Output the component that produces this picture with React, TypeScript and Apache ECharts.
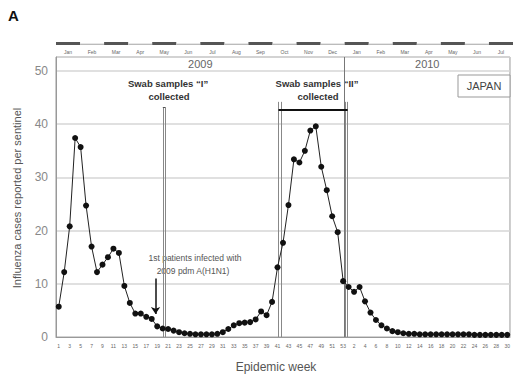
import React, { useEffect, useRef } from "react";
import * as echarts from "echarts";

// Epidemic week tick labels: 2009 weeks 1-53, 2010 weeks 1-30
const weeks2009 = Array.from({ length: 53 }, (_, i) => String(i + 1));
const weeks2010 = Array.from({ length: 30 }, (_, i) => String(i + 1));
const weekLabels = [...weeks2009, ...weeks2010];

// Influenza cases reported per sentinel
const values2009 = [
  5.7, 12.2, 20.8, 37.4, 35.7, 24.7, 17.0, 12.2, 13.6, 15.0,
  16.6, 15.8, 9.6, 6.4, 4.4, 4.4, 3.8, 3.4, 2.0, 1.6,
  1.5, 1.2, 0.9, 0.7, 0.6, 0.5, 0.5, 0.5, 0.5, 0.6,
  0.9, 1.5, 2.2, 2.6, 2.7, 2.8, 3.3, 4.8, 4.1, 6.6,
  13.1, 17.7, 24.8, 33.4, 32.8, 35.0, 38.8, 39.6, 32.0, 27.6,
  22.7, 19.7, 10.5,
];
const values2010 = [
  9.4, 8.5, 9.4, 6.7, 4.6, 3.2, 2.2, 1.6, 1.1, 0.9,
  0.7, 0.6, 0.6, 0.5, 0.5, 0.5, 0.5, 0.5, 0.5, 0.5,
  0.5, 0.5, 0.5, 0.4, 0.4, 0.4, 0.4, 0.4, 0.4, 0.4,
];
const values = [...values2009, ...values2010];

// Month timeline on top (Jan 2009 - Jul 2010)
const months = [
  "Jan", "Feb", "Mar", "Apr", "May", "Jun", "Jul", "Aug", "Sep", "Oct",
  "Nov", "Dec", "Jan", "Feb", "Mar", "Apr", "May", "Jun", "Jul",
];
const monthShade = [1, 0, 1, 0, 1, 0, 1, 0, 1, 0, 1, 0, 1, 0, 1, 0, 1, 0, 1];

const yTicks = [0, 10, 20, 30, 40, 50];
const years = ["2009", "2010"];

// Annotation positions in week-index units (1 = week 1 of 2009)
const yearBoundary = 53.25;
const swabI = 20.25;
const swabIIStart = 41.4;
const swabIIEnd = 53.6;
const firstPatientsWeek = 18.7;

const YMAX = 52.63;
const FONT = "'Liberation Sans', Arial, sans-serif";

export default function App() {
  const ref = useRef<HTMLDivElement>(null);
  useEffect(() => {
    if (!ref.current) return;
    const chart = echarts.init(ref.current, undefined, { renderer: "svg" });
    const grey = "#888";
    const dbl = (p: number, top: number) => [
      [
        { coord: [p - 0.22, 0], lineStyle: { color: grey, width: 1, type: "solid" } },
        { coord: [p - 0.22, top] },
      ],
      [
        { coord: [p + 0.22, 0], lineStyle: { color: grey, width: 1, type: "solid" } },
        { coord: [p + 0.22, top] },
      ],
    ];
    const option: any = {
      animation: false,
      textStyle: { fontFamily: FONT },
      grid: [
        { left: 56, top: 57, width: 457, height: 280, show: true, borderColor: "#999", borderWidth: 1 },
        { left: 56, top: 42, width: 457, height: 3 },
      ],
      xAxis: [
        {
          type: "category",
          gridIndex: 0,
          data: weekLabels,
          boundaryGap: true,
          axisLine: { show: true, lineStyle: { color: "#999" } },
          axisTick: { show: false },
          axisLabel: { interval: 1, fontSize: 5, color: "#666", margin: 6, fontFamily: FONT },
        },
        { type: "value", gridIndex: 0, min: 0.5, max: 83.5, show: false },
        {
          type: "category",
          gridIndex: 1,
          data: months,
          boundaryGap: true,
          axisLine: { show: false },
          axisTick: { show: false },
          axisLabel: { interval: 0, fontSize: 5, color: "#666", margin: 4, fontFamily: FONT },
        },
      ],
      yAxis: [
        {
          type: "value",
          gridIndex: 0,
          min: 0,
          max: YMAX,
          interval: 10,
          axisLine: { show: true, lineStyle: { color: "#999" } },
          axisTick: { show: false },
          splitLine: { lineStyle: { color: "#d6d6d6", width: 1.5 } },
          axisLabel: {
            fontSize: 12,
            color: "#888",
            margin: 8,
            fontFamily: FONT,
            formatter: (v: number) => (yTicks.includes(v) ? String(v) : ""),
          },
        },
        { type: "value", gridIndex: 1, min: 0, max: 1, show: false },
      ],
      series: [
        {
          type: "line",
          xAxisIndex: 1,
          yAxisIndex: 0,
          data: [],
          silent: true,
          markArea: {
            silent: true,
            itemStyle: { color: "rgba(0,0,0,0)" },
            label: { show: true, position: "inside", fontSize: 11, color: "#666", fontFamily: FONT },
            data: [
              [{ name: years[0], coord: [0.5, 50] }, { coord: [yearBoundary, YMAX] }],
              [{ name: years[1], coord: [yearBoundary, 50] }, { coord: [83.5, YMAX] }],
            ],
          },
          markLine: {
            silent: true,
            symbol: "none",
            label: { show: false },
            data: [
              [
                { coord: [yearBoundary, 0], lineStyle: { color: "#777", width: 1, type: "solid" } },
                { coord: [yearBoundary, YMAX] },
              ],
              ...dbl(swabI, 43.2),
              [
                { coord: [swabI - 0.22, 43.2], lineStyle: { color: "#555", width: 1, type: "solid" } },
                { coord: [swabI + 0.22, 43.2] },
              ],
              ...dbl(swabIIStart, 44.2),
              ...dbl(swabIIEnd, 44.2),
              [
                { coord: [swabIIStart - 0.22, 42.7], lineStyle: { color: "#111", width: 2, type: "solid" } },
                { coord: [swabIIEnd + 0.22, 42.7] },
              ],
              [
                { coord: [firstPatientsWeek, 11.0], symbol: "none", lineStyle: { color: "#111", width: 1.5, type: "solid" } },
                { coord: [firstPatientsWeek, 4.3], symbol: "arrow", symbolSize: 7 },
              ],
            ],
          },
        },
        {
          type: "line",
          xAxisIndex: 0,
          yAxisIndex: 0,
          data: values,
          symbol: "circle",
          symbolSize: 6,
          showSymbol: true,
          showAllSymbol: true,
          itemStyle: { color: "#111" },
          lineStyle: { color: "#222", width: 1 },
          z: 5,
        },
        {
          type: "bar",
          xAxisIndex: 2,
          yAxisIndex: 1,
          barWidth: "100%",
          silent: true,
          data: monthShade.map((s) => ({
            value: s ? 1 : 0.45,
            itemStyle: { color: s ? "#555" : "#bbb" },
          })),
        },
      ],
      graphic: [
        { type: "text", left: 8, top: 8, style: { text: "A", font: `bold 15px ${FONT}`, fill: "#111" } },
        {
          type: "text", x: 168, y: 83,
          style: { text: "Swab samples \u201cI\u201d", font: `bold 9.5px ${FONT}`, fill: "#333", textAlign: "center", textVerticalAlign: "middle" },
        },
        {
          type: "text", x: 169, y: 96,
          style: { text: "collected", font: `bold 9.5px ${FONT}`, fill: "#333", textAlign: "center", textVerticalAlign: "middle" },
        },
        {
          type: "text", x: 317, y: 83,
          style: { text: "Swab samples \u201cII\u201d", font: `bold 9.5px ${FONT}`, fill: "#333", textAlign: "center", textVerticalAlign: "middle" },
        },
        {
          type: "text", x: 318, y: 96,
          style: { text: "collected", font: `bold 9.5px ${FONT}`, fill: "#333", textAlign: "center", textVerticalAlign: "middle" },
        },
        {
          type: "text", x: 195, y: 258,
          style: { text: "1st patients infected with", font: `8.5px ${FONT}`, fill: "#555", textAlign: "center", textVerticalAlign: "middle" },
        },
        {
          type: "text", x: 193, y: 271,
          style: { text: "2009 pdm A(H1N1)", font: `8.5px ${FONT}`, fill: "#555", textAlign: "center", textVerticalAlign: "middle" },
        },
        {
          type: "rect", shape: { x: 458, y: 75, width: 52, height: 22 },
          style: { fill: "#fff", stroke: "#999", lineWidth: 1 },
        },
        {
          type: "text", x: 484, y: 86,
          style: { text: "JAPAN", font: `11px ${FONT}`, fill: "#444", textAlign: "center", textVerticalAlign: "middle" },
        },
        {
          type: "text", x: 276, y: 367,
          style: { text: "Epidemic week", font: `12px ${FONT}`, fill: "#555", textAlign: "center", textVerticalAlign: "middle" },
        },
        {
          type: "text", x: 17, y: 198, rotation: Math.PI / 2,
          style: { text: "Influenza cases reported per sentinel", font: `11px ${FONT}`, fill: "#555", textAlign: "center", textVerticalAlign: "middle" },
        },
      ],
    };
    chart.setOption(option);
    return () => chart.dispose();
  }, []);
  return (
    <div
      ref={ref}
      style={{ position: "fixed", left: 0, top: 0, width: 513, height: 375, background: "#fff" }}
    />
  );
}
